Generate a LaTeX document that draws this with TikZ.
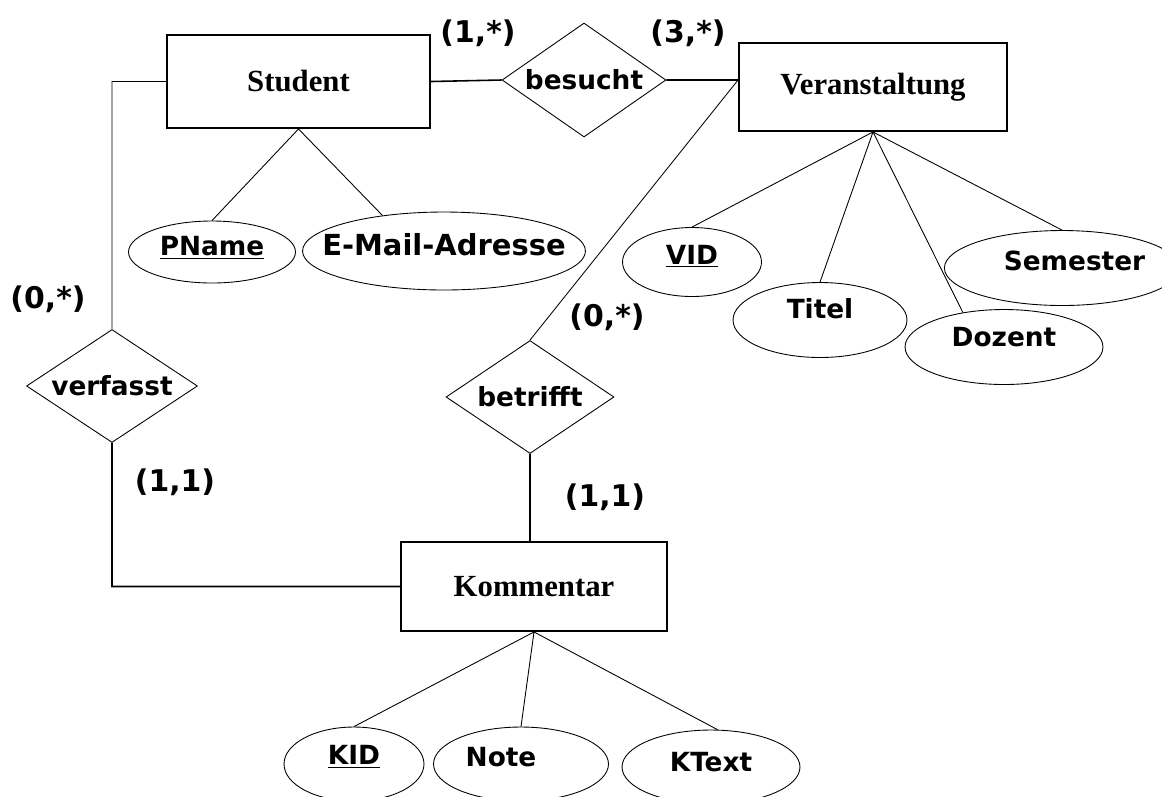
\documentclass[tikz,border=0pt]{standalone}
\usepackage{fontspec}
\setmainfont{Liberation Serif}
\newfontfamily\labelfont{DejaVu Sans}
\usetikzlibrary{shapes.geometric, positioning}
\tikzset{
entity/.style={draw, line width=1.1pt, rectangle, inner sep=0pt, font=\fontsize{17.5}{20}\selectfont\bfseries}, % entity boxes
rel/.style={draw, line width=0.5pt, diamond, inner sep=0pt, label={[font=\labelfont\fontsize{15}{18}\selectfont\bfseries]center:#1}}, % relationships
attr/.style={draw, line width=0.5pt, ellipse, inner sep=0pt, font=\labelfont\fontsize{15}{18}\selectfont\bfseries}, % attributes
card/.style={font=\labelfont\fontsize{17}{20}\selectfont\bfseries}, % cardinalities
conn/.style={line width=0.5pt},
thickconn/.style={line width=0.9pt},
}
\newcommand{\keyattr}[1]{\underline{#1}}

\begin{document}
\begin{tikzpicture}[x=0.02cm, y=-0.02cm]
                \useasboundingbox (0,0) rectangle (1162,796);

                % entities
                \node[entity, minimum width=5.26cm, minimum height=1.86cm] (Student) at (298.5,81.5) {Student};
                \node[entity, minimum width=5.36cm, minimum height=1.76cm] (Veranstaltung) at (873,87) {Veranstaltung};
                \node[entity, minimum width=5.32cm, minimum height=1.78cm] (Kommentar) at (534,586.5) {Kommentar};

                % relationships
                \node[rel=besucht, minimum width=3.28cm, minimum height=2.28cm] (besucht) at (584,80) {};
                \node[rel=verfasst, minimum width=3.42cm, minimum height=2.26cm] (verfasst) at (112,386) {};
                \node[rel=betrifft, minimum width=3.36cm, minimum height=2.26cm] (betrifft) at (530,397) {};

                % attributes
                \node[attr, minimum width=3.34cm, minimum height=1.24cm, text depth=0.25cm] (PName) at (212,252) {\keyattr{PName}};
                \node[attr, minimum width=5.66cm, minimum height=1.56cm, inner xsep=-1.2cm, text depth=0.25cm, font=\labelfont\fontsize{16.5}{18}\selectfont\bfseries] (EMail) at (444,251) {E-Mail-Adresse};
                \node[attr, minimum width=2.78cm, minimum height=1.38cm, text depth=0.3cm] (VID) at (692,262) {\keyattr{VID}};
                \node[attr, minimum width=3.48cm, minimum height=1.50cm, text depth=0.45cm] (Titel) at (820,320) {Titel};
                \node[attr, minimum width=3.96cm, minimum height=1.50cm, text depth=0.4cm] (Dozent) at (1004,347) {Dozent};
                \node[attr, minimum width=3.94cm, minimum height=1.50cm, text depth=0.3cm] (Semester) at (1062,268) {\hspace*{0.5cm}Semester};
                \node[attr, minimum width=2.80cm, minimum height=1.48cm, text depth=0.35cm] (KID) at (354,764) {\keyattr{KID}};
                \node[attr, minimum width=3.50cm, minimum height=1.48cm, text depth=0.3cm] (Note) at (521,764) {Note\hspace*{0.8cm}};
                \node[attr, minimum width=3.56cm, minimum height=1.48cm, text depth=0.2cm] (KText) at (711,767) {KText};

                % cardinalities
                \node[card] (c1) at (478,33) {(1,*)};
                \node[card] (c2) at (688,33) {(3,*)};
                \node[card] (c3) at (48,299) {(0,*)};
                \node[card] (c4) at (175,482) {(1,1)};
                \node[card] (c5) at (607,317) {(0,*)};
                \node[card] (c6) at (605,497) {(1,1)};

                \coordinate (vjoin) at (Veranstaltung.west |- besucht.east);

                \draw[conn]
                    (Student.west) -| (verfasst.north)
                    (vjoin) -- (betrifft.north)
                    ;
                \draw[thickconn]
                    (verfasst.south) |- (Kommentar.west)
                    (Student.east) -- (besucht.west)
                    (besucht.east) -- (vjoin)
                    (betrifft.south) -- (betrifft.south |- Kommentar.north)
                    ;
                \draw[conn]
                    (Student.south) -- (PName.north)
                    (Student.south) -- (EMail.150)
                    (Veranstaltung.south) -- (VID.north)
                    (Veranstaltung.south) -- (Titel.north)
                    (Veranstaltung.south) -- (Dozent.140)
                    (Veranstaltung.south) -- (Semester.north)
                    (Kommentar.south) -- (KID.north)
                    (Kommentar.south) -- (Note.north)
                    (Kommentar.south) -- (KText.80)
                    ;
\end{tikzpicture}
\end{document}
